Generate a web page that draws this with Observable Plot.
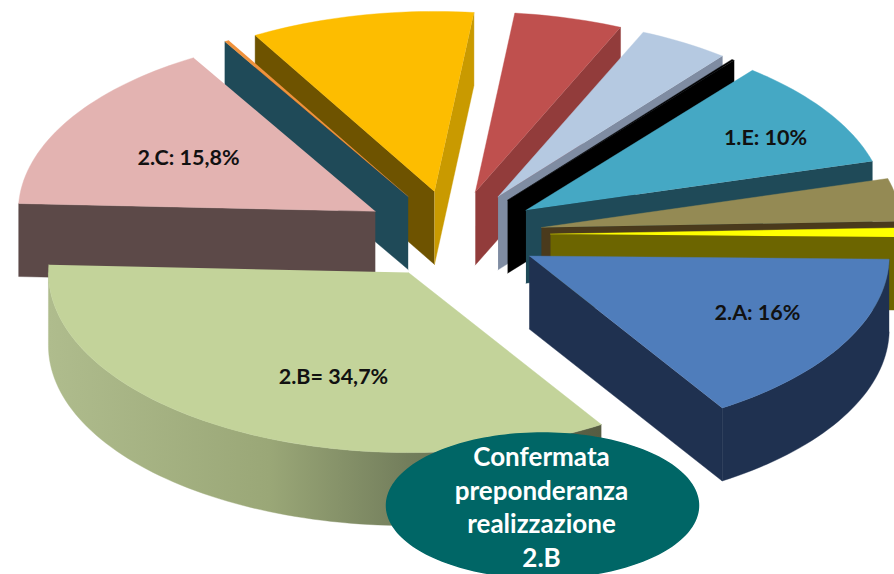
<!DOCTYPE html>
<html>
<head>
<meta charset="utf-8">
<script src="https://cdn.jsdelivr.net/npm/d3@7"></script>
<script src="https://cdn.jsdelivr.net/npm/@observablehq/plot@0.6"></script>
<style>
html,body{margin:0;padding:0;background:#fff;overflow:hidden}
svg{display:block}
</style>
</head>
<body>
<div id="chart"></div>
<script>
// Pie order, clockwise from the 3 o'clock direction
const sliceNames = ["2.A","2.B","2.C","orange","yellow","red","lightblue","black","1.E","olive","thinyellow"];
const sliceShares = [15.72, 34.7, 15.8, 0.2, 10.05, 4.86, 4.1, 0.12, 9.78, 3.83, 0.84];
const topColors  = ["#4f7dbb","#c3d39a","#e3b3b1","#f0923c","#fdbd00","#bf504e","#b5c9e1","#000000","#45a8c4","#948a54","#ffff00"];
const wallColors = ["#1f3150","#a2ae7e","#5c4948","#1f4a58","#6e5300","#923c3b","#7f8ca2","#000000","#1f4a58","#4a3a1c","#6c6500"];
const explodeBy  = [88, 88, 90, 88, 88, 88, 88, 88, 88, 90, 98];
const radiusBy   = [360, 360, 357, 360, 360, 360, 360, 360, 360, 360, 360];
const endWallColors = {"yellow":"#c99a00"};

const labelNames = ["2.A: 16%","2.B= 34,7%","2.C: 15,8%","1.E: 10%"];
const ovalLines = ["Confermata","preponderanza","realizzazione","2.B"];

const W = 894, H = 574;
const cx = 452, cy = 234, squash = 0.5, depth = 73, startAngle = 1;
const rad = d => d * Math.PI / 180;
const total = d3.sum(sliceShares);

// Cumulative angle of each slice
let acc = startAngle;
const slices = sliceNames.map((name, i) => {
  const a0 = acc; acc += sliceShares[i] / total * 360;
  const a1 = acc, mid = (a0 + a1) / 2;
  return {name, a0, a1, mid, top: topColors[i], wall: wallColors[i], R: radiusBy[i],
    ax: cx + explodeBy[i] * Math.cos(rad(mid)),
    ay: cy + explodeBy[i] * squash * Math.sin(rad(mid))};
});

const rim = (s, a, dz = 0) => ({
  x: s.ax + s.R * Math.cos(rad(a)),
  y: s.ay + s.R * squash * Math.sin(rad(a)) + dz
});
const arc = (s, a0, a1, dz = 0) => {
  const n = Math.max(2, Math.ceil(Math.abs(a1 - a0) / 1.5));
  return d3.range(n + 1).map(k => rim(s, a0 + (a1 - a0) * k / n, dz));
};
const apex = (s, dz = 0) => ({x: s.ax, y: s.ay + dz});

const poly = (points, fill) => Plot.line(points, {
  x: "x", y: "y", curve: "linear", fill, stroke: fill, strokeWidth: 0.4
});

function sliceMarks(s) {
  const out = [];
  // radial wall at the start angle: faces the viewer on the left half
  if (Math.cos(rad(s.a0)) < 0)
    out.push(poly([apex(s), rim(s, s.a0), rim(s, s.a0, depth), apex(s, depth)], s.wall));
  // radial wall at the end angle: faces the viewer on the right half
  if (Math.cos(rad(s.a1)) > 0)
    out.push(poly([apex(s), rim(s, s.a1), rim(s, s.a1, depth), apex(s, depth)], endWallColors[s.name] ?? s.wall));
  // outer rim wall: only the front half shows
  const f0 = Math.max(s.a0, 0), f1 = Math.min(s.a1, 180);
  if (f1 > f0) {
    const fill = s.name === "2.B" ? "url(#rimB)" : s.wall;
    out.push(poly([...arc(s, f0, f1), ...arc(s, f1, f0, depth)], fill));
  }
  out.push(poly([apex(s), ...arc(s, s.a0, s.a1)], s.top));
  return out;
}

const ordered = [...slices].sort((p, q) => Math.sin(rad(p.mid)) - Math.sin(rad(q.mid)));

const ovalPoints = d3.range(0, 361, 2).map(a => ({
  x: 542 + 156 * Math.cos(rad(a)),
  y: 505 + 72.5 * Math.sin(rad(a))
}));

const defsMark = () => {
  const ns = "http://www.w3.org/2000/svg";
  const defs = document.createElementNS(ns, "defs");
  const g = document.createElementNS(ns, "linearGradient");
  g.setAttribute("id", "rimB");
  g.setAttribute("gradientUnits", "userSpaceOnUse");
  g.setAttribute("x1", 48); g.setAttribute("x2", 600);
  g.setAttribute("y1", 0); g.setAttribute("y2", 0);
  [[0, "#afbc8d"], [0.4, "#9aa777"], [0.65, "#737e5c"], [1, "#565c42"]].forEach(([o, c]) => {
    const st = document.createElementNS(ns, "stop");
    st.setAttribute("offset", o); st.setAttribute("stop-color", c);
    g.appendChild(st);
  });
  defs.appendChild(g);
  return defs;
};

const font = "Lato, 'Open Sans', sans-serif";
const labels = [
  {t: labelNames[0], x: 757, y: 313},
  {t: labelNames[1], x: 333, y: 377},
  {t: labelNames[2], x: 188, y: 158},
  {t: labelNames[3], x: 765, y: 138}
];
const ovalText = ovalLines.map((t, i) => ({t, x: 541, y: 457 + i * 33.7}));

const plot = Plot.plot({
  width: W, height: H,
  margin: 0,
  x: {domain: [0, W], range: [0, W], axis: null},
  y: {domain: [0, H], range: [0, H], axis: null},
  marks: [
    defsMark,
    ...ordered.flatMap(sliceMarks),
    Plot.line(ovalPoints, {x: "x", y: "y", curve: "linear", fill: "#006666", stroke: "#006666"}),
    Plot.text(labels, {x: "x", y: "y", text: "t", fill: "#111", fontSize: 21.5, fontWeight: 700, fontFamily: font}),
    Plot.text(ovalText, {x: "x", y: "y", text: "t", fill: "#fff", fontSize: 26, fontWeight: 700, fontFamily: font})
  ]
});
plot.style.background = "#fff";
document.getElementById("chart").appendChild(plot);
</script>
</body>
</html>
